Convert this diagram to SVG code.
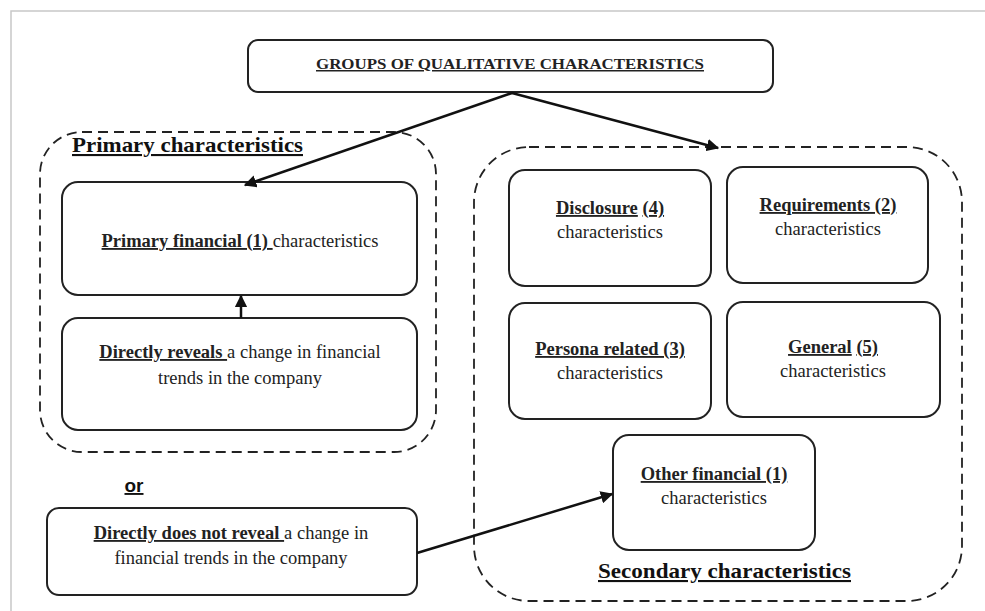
<svg xmlns="http://www.w3.org/2000/svg" width="985" height="611" viewBox="0 0 985 611">
<defs>
<marker id="ah" viewBox="0 0 10 10" refX="9" refY="5" markerWidth="5" markerHeight="5" orient="auto" markerUnits="strokeWidth">
<path d="M0,0 L10,5 L0,10 z" fill="#111"/>
</marker>
</defs>
<style>
.box{fill:#fff;stroke:#222;stroke-width:2}
.grp{fill:none;stroke:#222;stroke-width:1.8;stroke-dasharray:10,6}
.t{font-family:"Liberation Serif","Times New Roman",serif;font-size:18.5px;fill:#222;text-anchor:middle}
.b{font-weight:bold}
.u{text-decoration:underline}
.lbl{font-family:"Liberation Serif","Times New Roman",serif;font-size:21px;font-weight:bold;fill:#111;text-decoration:underline}
.con{stroke:#111;stroke-width:2.5;fill:none;marker-end:url(#ah)}
</style>
<rect x="0" y="0" width="985" height="611" fill="#fff"/>
<path d="M11,611 V11 H985" fill="none" stroke="#c8c8c8" stroke-width="1.5"/>

<g id="group-primary">
<rect class="grp" x="40" y="132" width="396" height="320" rx="42"/>
<text class="lbl" x="72" y="152" textLength="231" lengthAdjust="spacingAndGlyphs">Primary characteristics</text>
</g>
<g id="group-secondary">
<rect class="grp" x="474" y="147" width="488" height="454" rx="55"/>
<text class="lbl" x="598" y="578" textLength="253" lengthAdjust="spacingAndGlyphs">Secondary characteristics</text>
</g>

<g id="node-title">
<rect class="box" x="248" y="40" width="525" height="52" rx="10"/>
<text class="t b u" x="510" y="69" style="font-size:15px" textLength="388" lengthAdjust="spacingAndGlyphs">GROUPS OF QUALITATIVE CHARACTERISTICS</text>
</g>

<g id="node-primary-financial">
<rect class="box" x="62" y="182" width="355" height="113" rx="16"/>
<text class="t" x="240" y="247"><tspan class="b u">Primary financial (1) </tspan>characteristics</text>
</g>

<g id="node-directly-reveals">
<rect class="box" x="62" y="318" width="355" height="112" rx="16"/>
<text class="t" x="240" y="358"><tspan class="b u">Directly reveals </tspan>a change in financial</text>
<text class="t" x="240" y="384">trends in the company</text>
</g>

<g id="node-or">
<text x="134" y="492" style="font-family:'Liberation Sans',Arial,sans-serif;font-size:19px;font-weight:bold;fill:#111;text-anchor:middle;text-decoration:underline">or</text>
</g>

<g id="node-directly-not">
<rect class="box" x="47" y="508" width="370" height="87" rx="12"/>
<text class="t" x="231" y="539"><tspan class="b u">Directly does not reveal </tspan>a change in</text>
<text class="t" x="231" y="564">financial trends in the company</text>
</g>

<g id="node-disclosure">
<rect class="box" x="509" y="170" width="202" height="116" rx="16"/>
<text class="t" x="610" y="214"><tspan class="b u">Disclosure</tspan> <tspan class="b u">(4)</tspan></text>
<text class="t" x="610" y="238">characteristics</text>
</g>

<g id="node-requirements">
<rect class="box" x="727" y="167" width="201" height="116" rx="16"/>
<text class="t" x="828" y="211"><tspan class="b u">Requirements (2)</tspan></text>
<text class="t" x="828" y="235">characteristics</text>
</g>

<g id="node-persona">
<rect class="box" x="509" y="303" width="202" height="116" rx="16"/>
<text class="t" x="610" y="355"><tspan class="b u">Persona related (3)</tspan></text>
<text class="t" x="610" y="379">characteristics</text>
</g>

<g id="node-general">
<rect class="box" x="727" y="302" width="213" height="115" rx="16"/>
<text class="t" x="833" y="353"><tspan class="b u">General</tspan> <tspan class="b u">(5)</tspan></text>
<text class="t" x="833" y="377">characteristics</text>
</g>

<g id="node-other-financial">
<rect class="box" x="613" y="435" width="202" height="115" rx="16"/>
<text class="t" x="714" y="480"><tspan class="b u">Other financial (1)</tspan></text>
<text class="t" x="714" y="504">characteristics</text>
</g>

<g id="connectors">
<line class="con" x1="512" y1="93" x2="245" y2="185"/>
<line class="con" x1="512" y1="93" x2="718" y2="148"/>
<line class="con" x1="241" y1="318" x2="241" y2="296"/>
<line class="con" x1="417" y1="553" x2="612" y2="494"/>
</g>
</svg>
